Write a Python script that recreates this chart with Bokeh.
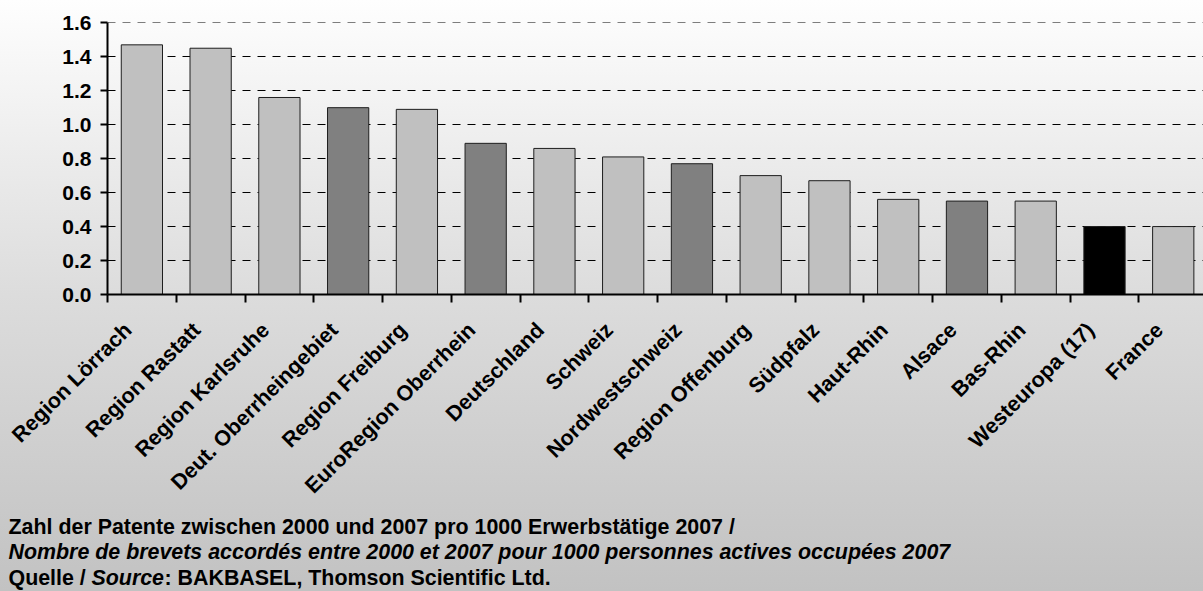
import math

from bokeh.embed import file_html
from bokeh.layouts import column
from bokeh.models import ColumnDataSource, FixedTicker, Label, Range1d
from bokeh.plotting import figure
from bokeh.resources import INLINE

# Patents granted 2000-2007 per 1000 employed persons (2007)
regions = [
    "Region Lörrach", "Region Rastatt", "Region Karlsruhe", "Deut. Oberrheingebiet",
    "Region Freiburg", "EuroRegion Oberrhein", "Deutschland", "Schweiz",
    "Nordwestschweiz", "Region Offenburg", "Südpfalz", "Haut-Rhin", "Alsace",
    "Bas-Rhin", "Westeuropa (17)", "France",
]
patents = [1.47, 1.45, 1.16, 1.10, 1.09, 0.89, 0.86, 0.81,
           0.77, 0.70, 0.67, 0.56, 0.55, 0.55, 0.40, 0.40]
# kind of area: district / national, aggregated Upper Rhine parts, Western Europe
kinds = ["region", "region", "region", "aggregate", "region", "aggregate", "region", "region",
         "aggregate", "region", "region", "region", "aggregate", "region", "europe", "region"]
y_ticks = [0.0, 0.2, 0.4, 0.6, 0.8, 1.0, 1.2, 1.4, 1.6]
y_tick_labels = ["0.0", "0.2", "0.4", "0.6", "0.8", "1.0", "1.2", "1.4", "1.6"]

kind_colors = {"region": "#c0c0c0", "aggregate": "#808080", "europe": "#000000"}

FONT = "Liberation Sans"
W, H = 1203, 591
CHART_H = 516                     # chart part; the caption strip takes the rest
LEFT, TOP = 107, 22
BOTTOM = CHART_H - 294

xs = list(range(len(regions)))
src = ColumnDataSource(dict(
    x=xs, top=patents, name=regions,
    color=[kind_colors[k] for k in kinds],
))

p = figure(
    width=W, height=CHART_H, output_backend="svg", toolbar_location=None,
    x_range=Range1d(-0.5, 15.44), y_range=Range1d(0, 1.6015),
    min_border_left=LEFT, min_border_right=0, min_border_top=TOP, min_border_bottom=BOTTOM,
)
p.frame_align = False
p.background_fill_color = None
p.border_fill_color = None
p.outline_line_color = None

p.vbar(x="x", top="top", width=0.6, bottom=0, source=src,
       fill_color="color", line_color="#1e1e1e", line_width=1)

# grid
p.xgrid.grid_line_color = None
p.ygrid.ticker = FixedTicker(ticks=y_ticks)
p.ygrid.grid_line_color = "#000000"
p.ygrid.grid_line_dash = "8 7"
p.ygrid.grid_line_width = 1

# y axis
ya = p.yaxis[0]
ya.ticker = FixedTicker(ticks=y_ticks)
ya.major_label_overrides = {t: s for t, s in zip(y_ticks, y_tick_labels)}
ya.axis_line_width = 2
ya.axis_line_color = "#000000"
ya.major_tick_line_width = 2
ya.major_tick_in = 0
ya.major_tick_out = 7
ya.minor_tick_line_color = None
ya.major_label_standoff = 9
ya.major_label_text_font = FONT
ya.major_label_text_font_style = "bold"
ya.major_label_text_font_size = "21px"
ya.major_label_text_color = "#000000"

# x axis: rotated names anchored just left of each bar centre, tick marks between the bars
label_pos = [round(i - 0.2, 2) for i in xs]
xa = p.xaxis[0]
xa.ticker = FixedTicker(ticks=label_pos, minor_ticks=[i - 0.5 for i in xs])
xa.major_label_overrides = {pos: r for pos, r in zip(label_pos, regions)}
xa.major_label_orientation = math.pi / 4
xa.axis_line_width = 2
xa.axis_line_color = "#000000"
xa.major_tick_line_color = None
xa.minor_tick_line_color = "#000000"
xa.minor_tick_line_width = 2
xa.minor_tick_in = 0
xa.minor_tick_out = 8
xa.major_label_standoff = 24
xa.major_label_text_font = FONT
xa.major_label_text_font_style = "bold"
xa.major_label_text_font_size = "21.5px"
xa.major_label_text_color = "#000000"

# caption strip underneath: a bare plot whose frame spans the whole strip
CAP_H = H - CHART_H
cap_fig = figure(
    width=W, height=CAP_H, output_backend="svg", toolbar_location=None,
    x_range=Range1d(0, W), y_range=Range1d(0, CAP_H),
    x_axis_location=None, y_axis_location=None,
    min_border=0, min_border_left=0, min_border_right=0, min_border_top=0, min_border_bottom=0,
)
cap_fig.frame_align = False
cap_fig.grid.visible = False
cap_fig.background_fill_color = None
cap_fig.border_fill_color = None
cap_fig.outline_line_color = None

CAP_SHIFT = 7                     # the strip frame sits a few pixels lower than its nominal slot


def baseline(y_page):
    """Screen y of a text baseline inside the caption strip, measured from its bottom."""
    return H - y_page + CAP_SHIFT


cap = dict(x_units="screen", y_units="screen", text_font=FONT,
           text_font_size="21.4px", text_color="#000000", text_baseline="alphabetic")
cap_fig.add_layout(Label(x=8, y=baseline(533),
                         text="Zahl der Patente zwischen 2000 und 2007 pro 1000 Erwerbstätige 2007 /",
                         text_font_style="bold", **cap))
cap_fig.add_layout(Label(x=8, y=baseline(558),
                         text="Nombre de brevets accordés entre 2000 et 2007 pour 1000 personnes actives occupées 2007",
                         text_font_style="bold italic", **cap))
cap_fig.add_layout(Label(x=8, y=baseline(584), text="Quelle / ",
                         text_font_style="bold", **cap))
cap_fig.add_layout(Label(x=91, y=baseline(584), text="Source",
                         text_font_style="bold italic", **cap))
cap_fig.add_layout(Label(x=164, y=baseline(584), text=" : BAKBASEL, Thomson Scientific Ltd.",
                         text_font_style="bold", **cap))

page = column(p, cap_fig, spacing=0, width=W, height=H,
              styles={"background": "linear-gradient(to bottom, #fefefe 0%, #dcdcdc 50%, #c2c2c2 100%)"})

html = file_html(page, INLINE)
html = html.replace("<body>", '<body style="margin:0;padding:0;">', 1)
open("out.html", "w").write(html)
